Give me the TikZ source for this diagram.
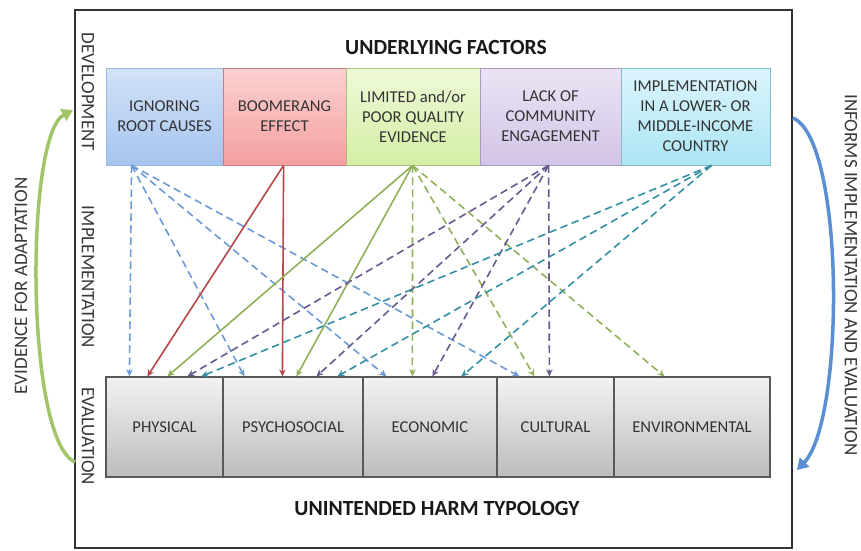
\documentclass[tikz,border=0pt]{standalone}
\usepackage{fontspec}
\setmainfont{Carlito}
\usetikzlibrary{arrows.meta,calc}
\definecolor{cblue}{HTML}{6A9BD6}
\definecolor{cred}{HTML}{B5474A}
\definecolor{cgreen}{HTML}{91B05A}
\definecolor{cpurple}{HTML}{6A5A90}
\definecolor{cteal}{HTML}{3590A5}
\definecolor{arcgreen}{HTML}{A3C56A}
\definecolor{arcblue}{HTML}{5B8FD4}
\definecolor{f1t}{RGB}{210,226,248}\definecolor{f1b}{RGB}{166,196,238}
\definecolor{f2t}{RGB}{252,208,208}\definecolor{f2b}{RGB}{243,160,160}
\definecolor{f3t}{RGB}{238,250,216}\definecolor{f3b}{RGB}{212,238,165}
\definecolor{f4t}{RGB}{236,228,245}\definecolor{f4b}{RGB}{210,196,230}
\definecolor{f5t}{RGB}{220,245,252}\definecolor{f5b}{RGB}{172,229,245}
\begin{document}
\begin{tikzpicture}[x=1pt,y=-1pt,
  lbl/.style={font=\fontsize{16.6}{20}\selectfont, text=black!80, align=center},
  fbox/.style={draw, line width=0.8pt, minimum height=97pt, lbl, inner sep=1pt},
  hbox/.style={draw=black!65, line width=1.2pt, minimum height=100pt, top color=black!5, bottom color=black!26, lbl},
  conn/.style={line width=1.6pt, -{Stealth[length=7pt,width=6.5pt]}},
  dsh/.style={conn, dash pattern=on 7.5pt off 4.5pt},
  side/.style={font=\fontsize{19}{22}\selectfont, text=black!78},
  ttl/.style={font=\fontsize{21.6}{25}\selectfont\bfseries, text=black!90},
  bigarc/.style={line width=3.5pt, -{Triangle[length=11pt,width=13pt]}}]
\useasboundingbox (0,0) rectangle (861,550);
\fill[white] (0,0) rectangle (861,550);
% frame
\node[draw=black!80, line width=1.8pt, minimum width=717pt, minimum height=538pt, inner sep=0pt] (frame) at (433.5,279) {};
% titles
\node[ttl] (uf) at (446,47) {UNDERLYING FACTORS};
\node[ttl] (uht) at (437,508) {UNINTENDED HARM TYPOLOGY};
% side labels
\node[side, rotate=-90] (dev) at (88,92) {DEVELOPMENT};
\node[side, rotate=-90] (imp) at (88,277) {IMPLEMENTATION};
\node[side, rotate=-90] (eva) at (88,436) {EVALUATION};
\node[side, rotate=90] (efa) at (21,286) {EVIDENCE FOR ADAPTATION};
\node[side, rotate=-90] (iie) at (851,275) {INFORMS IMPLEMENTATION AND EVALUATION};
% top boxes
\node[fbox, minimum width=117pt, draw=cblue!70, top color=f1t, bottom color=f1b] (f1) at (164.5,116.5) {IGNORING\\ROOT CAUSES};
\node[fbox, minimum width=123pt, draw=cred!70, top color=f2t, bottom color=f2b] (f2) at (284.5,116.5) {BOOMERANG\\EFFECT};
\node[fbox, minimum width=134pt, draw=cgreen!80, top color=f3t, bottom color=f3b] (f3) at (413,116.5) {LIMITED and/or\\POOR QUALITY\\EVIDENCE};
\node[fbox, minimum width=141pt, draw=cpurple!60, top color=f4t, bottom color=f4b] (f4) at (550.5,116.5) {LACK OF\\COMMUNITY\\ENGAGEMENT};
\node[fbox, minimum width=149pt, draw=cteal!60, top color=f5t, bottom color=f5b] (f5) at (695.5,116.5) {IMPLEMENTATION\\IN A LOWER- OR\\MIDDLE-INCOME\\COUNTRY};
% bottom boxes
\node[hbox, minimum width=117pt] (h1) at (164.5,427) {PHYSICAL};
\node[hbox, minimum width=140pt] (h2) at (293,427) {PSYCHOSOCIAL};
\node[hbox, minimum width=134pt] (h3) at (430,427) {ECONOMIC};
\node[hbox, minimum width=117pt] (h4) at (555.5,427) {CULTURAL};
\node[hbox, minimum width=156pt] (h5) at (692,427) {ENVIRONMENTAL};
% blue: ignoring root causes
\draw[dsh, cblue] ($(f1.south west)+(26,0)$) -- ($(h1.north west)+(24,0)$);
\draw[dsh, cblue] ($(f1.south west)+(26,0)$) -- ($(h2.north west)+(22,0)$);
\draw[dsh, cblue] ($(f1.south west)+(26,0)$) -- ($(h3.north west)+(24,0)$);
\draw[dsh, cblue] ($(f1.south west)+(26,0)$) -- ($(h4.north west)+(23,0)$);
% red: boomerang
\draw[conn, cred] ($(f2.south west)+(61,0)$) -- ($(h1.north west)+(42,0)$);
\draw[conn, cred] ($(f2.south west)+(61,0)$) -- ($(h2.north west)+(60,0)$);
% green: limited evidence
\draw[conn, cgreen] ($(f3.south west)+(67,0)$) -- ($(h1.north west)+(62,0)$);
\draw[conn, cgreen] ($(f3.south west)+(67,0)$) -- ($(h2.north west)+(74,0)$);
\draw[dsh, cgreen] ($(f3.south west)+(67,0)$) -- ($(h3.north west)+(50,0)$);
\draw[dsh, cgreen] ($(f3.south west)+(67,0)$) -- ($(h4.north west)+(38,0)$);
\draw[dsh, cgreen] ($(f3.south west)+(67,0)$) -- ($(h5.north west)+(51,0)$);
% purple: lack of community engagement
\draw[dsh, cpurple] ($(f4.south west)+(69,0)$) -- ($(h1.north west)+(82,0)$);
\draw[dsh, cpurple] ($(f4.south west)+(69,0)$) -- ($(h2.north west)+(94,0)$);
\draw[dsh, cpurple] ($(f4.south west)+(69,0)$) -- ($(h3.north west)+(70,0)$);
\draw[dsh, cpurple] ($(f4.south west)+(69,0)$) -- ($(h4.north west)+(53,0)$);
% teal: LMIC
\draw[dsh, cteal] ($(f5.south west)+(91,0)$) -- ($(h1.north west)+(96,0)$);
\draw[dsh, cteal] ($(f5.south west)+(91,0)$) -- ($(h2.north west)+(115,0)$);
\draw[dsh, cteal] ($(f5.south west)+(91,0)$) -- ($(h3.north west)+(99,0)$);
% big arcs
\coordinate (gA) at (75,462);
\coordinate (gB) at (73,110);
\coordinate (bA) at (793,118);
\coordinate (bB) at (797,470);
\draw[bigarc, arcgreen] (gA) .. controls (25,440) and (25,135) .. (gB);
\draw[bigarc, arcblue] (bA) .. controls (845,140) and (845,420) .. (bB);
\end{tikzpicture}
\end{document}
